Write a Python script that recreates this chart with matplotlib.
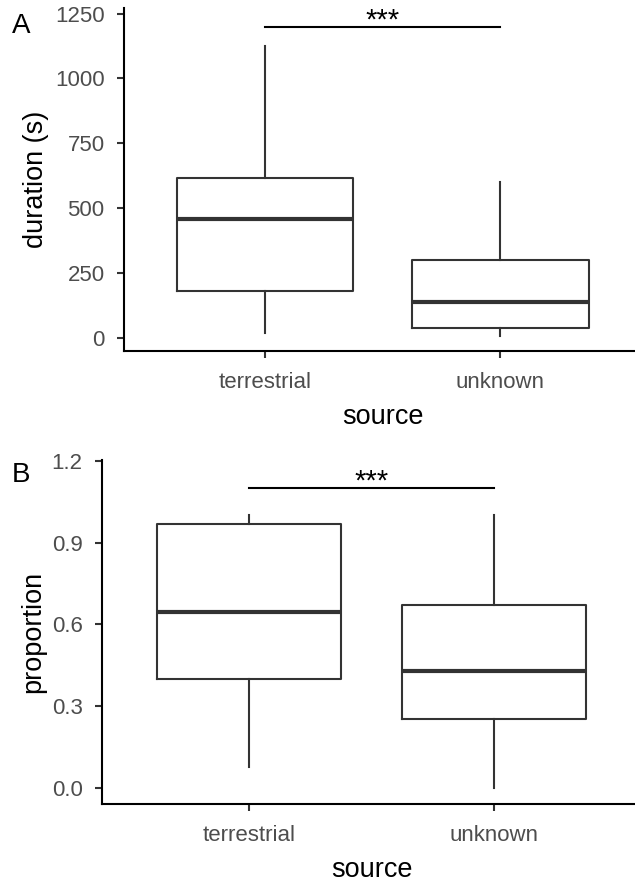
import matplotlib
matplotlib.use("Agg")
from matplotlib import pyplot as plt

plt.rcParams['font.family'] = ['Liberation Sans', 'DejaVu Sans']

groups = ["terrestrial", "unknown"]

# panel A: duration (s) summary per group
dur_whislo = [19, 8]
dur_q1 = [181, 39]
dur_med = [457, 139]
dur_q3 = [617, 301]
dur_whishi = [1126, 602]
dur_ticks = [0, 250, 500, 750, 1000, 1250]
dur_sig = 1200

# panel B: proportion summary per group
prop_whislo = [0.075, 0.0]
prop_q1 = [0.398, 0.251]
prop_med = [0.646, 0.427]
prop_q3 = [0.968, 0.670]
prop_whishi = [1.0, 1.0]
prop_ticks = [0.0, 0.3, 0.6, 0.9, 1.2]
prop_sig = 1.1

box_col = "#333333"
tick_col = "#4D4D4D"


def make_stats(lo, q1, med, q3, hi):
    stats = []
    for i in range(len(groups)):
        stats.append(dict(whislo=lo[i], q1=q1[i], med=med[i], q3=q3[i],
                          whishi=hi[i], fliers=[], label=groups[i]))
    return stats


def draw_panel(ax, stats, ticks, ticklabels, ylim, ylabel, sig):
    ax.bxp(stats, positions=[1, 2], widths=0.75, showfliers=False,
           showcaps=False, patch_artist=False,
           boxprops=dict(color=box_col, linewidth=1.5),
           whiskerprops=dict(color=box_col, linewidth=1.5),
           medianprops=dict(color=box_col, linewidth=3, solid_capstyle='butt'))
    ax.set_xlim(0.4, 2.6)
    ax.set_ylim(*ylim)
    ax.set_yticks(ticks)
    ax.set_yticklabels(ticklabels)
    ax.set_xticks([1, 2])
    ax.set_xticklabels(groups)
    for s in ["top", "right"]:
        ax.spines[s].set_visible(False)
    for s in ["left", "bottom"]:
        ax.spines[s].set_linewidth(1.5)
        ax.spines[s].set_color("black")
    ax.tick_params(axis="both", length=5, width=1.5, color="#333333",
                   labelcolor=tick_col, labelsize=16)
    ax.tick_params(axis="y", pad=9)
    ax.tick_params(axis="x", pad=10)
    ax.set_ylabel(ylabel, fontsize=19.5, labelpad=4)
    ax.set_xlabel("source", fontsize=19.5, labelpad=8)
    # significance bar
    ax.plot([1, 2], [sig, sig], color="black", linewidth=1.5, clip_on=False)
    ax.annotate("***", xy=(1.5, sig), xytext=(0, -5.5), textcoords="offset points",
                ha="center", va="bottom", fontsize=21)


fig = plt.figure(figsize=(6.35, 8.84), dpi=100)
ax_a = fig.add_axes([0.1953, 0.6029, 0.815, 0.3885])
ax_b = fig.add_axes([0.1606, 0.0905, 0.849, 0.3893])

draw_panel(ax_a, make_stats(dur_whislo, dur_q1, dur_med, dur_q3, dur_whishi),
           dur_ticks, [str(t) for t in dur_ticks], (-50, 1273),
           "duration (s)", dur_sig)
draw_panel(ax_b, make_stats(prop_whislo, prop_q1, prop_med, prop_q3, prop_whishi),
           prop_ticks, ["%.1f" % t for t in prop_ticks], (-0.06, 1.204),
           "proportion", prop_sig)

fig.text(12 / 635, 1 - 13 / 884, "A", fontsize=20, ha="left", va="top")
fig.text(12 / 635, 1 - 462 / 884, "B", fontsize=20, ha="left", va="top")

fig.savefig("out.png", dpi=100)
